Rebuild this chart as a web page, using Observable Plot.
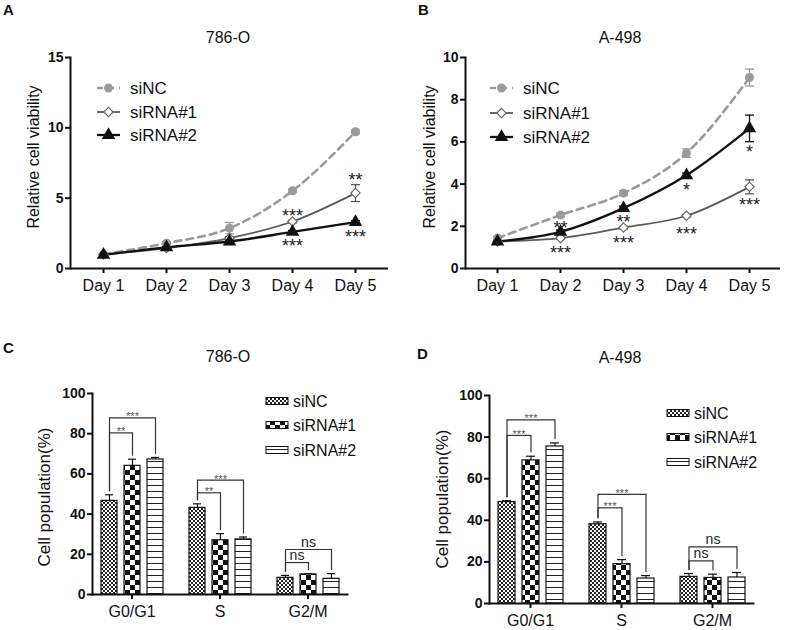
<!DOCTYPE html>
<html><head><meta charset="utf-8">
<script src="https://cdn.jsdelivr.net/npm/d3@7"></script>
<script src="https://cdn.jsdelivr.net/npm/@observablehq/plot@0.6"></script>
<style>
body{margin:0;background:#fff;}
#fig{position:relative;width:787px;height:630px;overflow:hidden;background:#fff;font-family:"Liberation Sans",Arial,sans-serif;}
.panel{position:absolute;}
.panel svg{max-width:none !important;}
#overlay{position:absolute;left:0;top:0;pointer-events:none;}
</style></head><body>
<div id="fig">
  <div id="pA" class="panel" style="left:0;top:0;width:390px;height:300px"></div>
  <div id="pB" class="panel" style="left:390px;top:0;width:397px;height:300px"></div>
  <div id="pC" class="panel" style="left:0;top:300px;width:390px;height:330px"></div>
  <div id="pD" class="panel" style="left:390px;top:300px;width:397px;height:330px"></div>
  <svg id="overlay" width="787" height="630">
    <defs>
      <pattern id="patNC" patternUnits="userSpaceOnUse" width="4" height="4">
        <rect width="4" height="4" fill="#fff"/>
        <rect width="2" height="2" fill="#222"/><rect x="2" y="2" width="2" height="2" fill="#222"/>
      </pattern>
      <pattern id="patS1" patternUnits="userSpaceOnUse" width="10" height="10">
        <rect width="10" height="10" fill="#fff"/>
        <rect width="5" height="5" fill="#111"/><rect x="5" y="5" width="5" height="5" fill="#111"/>
      </pattern>
      <pattern id="patS2" patternUnits="userSpaceOnUse" width="6" height="6">
        <rect width="6" height="6" fill="#fff"/>
        <rect y="5" width="6" height="1" fill="#222"/>
      </pattern>
    </defs>
  </svg>
</div>
<script>
// ---------- data ----------
const days = ["Day 1", "Day 2", "Day 3", "Day 4", "Day 5"];
const seriesNames = ["siNC", "siRNA#1", "siRNA#2"];
const phases = ["G0/G1", "S", "G2/M"];
const cellLines = ["786-O", "A-498"];
const panelLetters = ["A", "B", "C", "D"];
const viabilityLabel = "Relative cell viability";
const populationLabel = "Cell population(%)";

// Panel A: 786-O relative viability
const aSiNC = [1.02, 1.80, 2.87, 5.52, 9.72];
const aSiNCErr = [0.06, 0.10, 0.40, 0.12, 0.12];
const aSi1 = [1.00, 1.45, 2.16, 3.34, 5.36];
const aSi1Err = [0.05, 0.08, 0.10, 0.10, 0.60];
const aSi2 = [0.97, 1.50, 1.92, 2.60, 3.30];
const aSi2Err = [0.04, 0.05, 0.08, 0.10, 0.10];
const aYTicks = [0, 5, 10, 15];
const aStarDays = ["Day 4", "Day 4", "Day 5", "Day 5"];
const aStarY = [4.07, 1.94, 6.6, 2.58];
const aStarText = ["***", "***", "**", "***"];

// Panel B: A-498 relative viability
const bSiNC = [1.44, 2.53, 3.57, 5.47, 9.05];
const bSiNCErr = [0.08, 0.10, 0.12, 0.20, 0.40];
const bSi1 = [1.28, 1.44, 1.94, 2.50, 3.87];
const bSi1Err = [0.04, 0.05, 0.06, 0.06, 0.33];
const bSi2 = [1.28, 1.74, 2.86, 4.42, 6.64];
const bSi2Err = [0.04, 0.08, 0.10, 0.10, 0.63];
const bYTicks = [0, 2, 4, 6, 8, 10];
const bStarDays = ["Day 2", "Day 2", "Day 3", "Day 3", "Day 4", "Day 4", "Day 5", "Day 5"];
const bStarY = [2.15, 0.98, 2.43, 1.45, 3.93, 1.88, 5.75, 3.25];
const bStarText = ["**", "***", "**", "***", "*", "***", "*", "***"];

// Panel C: 786-O cell cycle
const cSiNC = [46.6, 43.1, 8.3];
const cSiNCErr = [3.0, 2.0, 1.2];
const cSi1 = [64.0, 27.0, 10.0];
const cSi1Err = [3.3, 3.3, 0.3];
const cSi2 = [67.2, 27.4, 7.8];
const cSi2Err = [1.0, 1.2, 2.6];
const cBrPhase = ["G0/G1", "G0/G1", "S", "S", "G2/M", "G2/M"];
const cBrTo = ["siRNA#1", "siRNA#2", "siRNA#1", "siRNA#2", "siRNA#1", "siRNA#2"];
const cBrH = [80.4, 87.9, 50.6, 56.9, 15.9, 22.4];
const cBrText = ["**", "***", "**", "***", "ns", "ns"];

// Panel D: A-498 cell cycle
const dSiNC = [48.8, 38.1, 12.8];
const dSiNCErr = [0.6, 1.1, 1.6];
const dSi1 = [68.8, 18.9, 12.3];
const dSi1Err = [2.0, 2.2, 1.8];
const dSi2 = [75.5, 12.0, 12.5];
const dSi2Err = [1.7, 1.4, 2.4];
const dBrPhase = ["G0/G1", "G0/G1", "S", "S", "G2/M", "G2/M"];
const dBrTo = ["siRNA#1", "siRNA#2", "siRNA#1", "siRNA#2", "siRNA#1", "siRNA#2"];
const dBrH = [80.8, 88.3, 46.0, 52.5, 20.5, 27.2];
const dBrText = ["***", "***", "***", "***", "ns", "ns"];

const pctTicks = [0, 20, 40, 60, 80, 100];

// ---------- styles ----------
const FONT = "'Liberation Sans', Arial, sans-serif";
const lineStyle = {
  "siNC": {stroke: "#9a9a9a", width: 2.6, dash: "7,5", symbol: "circle", r: 4.5, fill: "#9a9a9a", mstroke: "none"},
  "siRNA#1": {stroke: "#5a5a5a", width: 1.8, dash: null, symbol: "diamond2", r: 4.2, fill: "#fff", mstroke: "#6a6a6a"},
  "siRNA#2": {stroke: "#111", width: 2.3, dash: null, symbol: "triangle", r: 5, fill: "#111", mstroke: "none"}
};
const patternFor = {"siNC": "url(#patNC)", "siRNA#1": "url(#patS1)", "siRNA#2": "url(#patS2)"};
const baseStyle = {fontFamily: FONT, color: "#111", background: "transparent", overflow: "visible"};
// horizontal error-bar cap drawn as a dot symbol (half-width = r)
const capSymbol = {draw(ctx, size) { const w = Math.sqrt(size / Math.PI); ctx.moveTo(-w, 0); ctx.lineTo(w, 0); }};

// ---------- line panels ----------
function linePanel({vals, errs, yMax, yTicks, starDays, starY, starText, width, height, margins}) {
  const rows = [];
  seriesNames.forEach((s, k) => days.forEach((d, i) => rows.push({series: s, day: d, v: vals[k][i], e: errs[k][i]})));
  const stars = starDays.map((d, i) => ({day: d, y: starY[i], label: starText[i]}));
  const marks = [
    Plot.axisY({ticks: yTicks, tickSize: 5, tickPadding: 2, fontSize: 14, fontWeight: "bold", strokeWidth: 2, label: null}),
    Plot.axisX({tickSize: 5, tickPadding: 6, fontSize: 16, strokeWidth: 2, label: null}),
    Plot.ruleY([0], {strokeWidth: 2}),
    Plot.frame({anchor: "left", strokeWidth: 2})
  ];
  for (const s of seriesNames) {
    const st = lineStyle[s];
    const data = rows.filter(r => r.series === s);
    marks.push(Plot.ruleX(data, {x: "day", y1: d => d.v - d.e, y2: d => d.v + d.e, stroke: st.stroke, strokeWidth: 1.3}));
    marks.push(Plot.dot(data, {x: "day", y: d => d.v + d.e, symbol: capSymbol, r: 4.5, fill: "none", stroke: st.stroke, strokeWidth: 1.3}));
    marks.push(Plot.dot(data, {x: "day", y: d => d.v - d.e, symbol: capSymbol, r: 4.5, fill: "none", stroke: st.stroke, strokeWidth: 1.3}));
  }
  for (const s of seriesNames) {
    const st = lineStyle[s];
    const data = rows.filter(r => r.series === s);
    marks.push(Plot.line(data, {x: "day", y: "v", stroke: st.stroke, strokeWidth: st.width, strokeDasharray: st.dash, curve: "monotone-x"}));
  }
  for (const s of seriesNames) {
    const st = lineStyle[s];
    const data = rows.filter(r => r.series === s);
    marks.push(Plot.dot(data, {x: "day", y: "v", symbol: st.symbol, r: st.r, fill: st.fill, stroke: st.mstroke, strokeWidth: 1.2}));
  }
  marks.push(Plot.text(stars, {x: "day", y: "y", text: "label", fontSize: 18, fill: "#222", dy: 5}));
  return Plot.plot({
    width, height, ...margins, style: baseStyle,
    x: {type: "point", domain: days, padding: 0.5},
    y: {domain: [0, yMax]},
    marks
  });
}

// ---------- bar panels ----------
function midRender(data) {
  return function (index, scales, values, dimensions, context, next) {
    const X = Array.from(values.x);
    for (const i of index) {
      const off = values.x[i] - scales.x(data[i].to);
      X[i] = (values.x[i] + scales.x("siNC") + off) / 2;
    }
    return next(index, scales, {...values, x: X}, dimensions, context);
  };
}

function barPanel({vals, errs, brPhase, brTo, brH, brText, width, height, margins}) {
  const bars = [];
  seriesNames.forEach((s, k) => phases.forEach((p, i) => bars.push({series: s, phase: p, v: vals[k][i], e: errs[k][i]})));
  const top = (p, s) => { const b = bars.find(d => d.phase === p && d.series === s); return b.v + b.e; };
  const br = brPhase.map((p, i) => ({phase: p, to: brTo[i], h: brH[i], label: brText[i],
    lowL: top(p, "siNC") + 1.5, lowR: top(p, brTo[i]) + 1.5}));
  const brStars = br.filter(d => d.label !== "ns");
  const brNs = br.filter(d => d.label === "ns");
  return Plot.plot({
    width, height, ...margins, style: baseStyle,
    fx: {domain: phases, paddingInner: 0.1, paddingOuter: 0.05},
    x: {domain: seriesNames, padding: 0.31, axis: null},
    y: {domain: [0, 100]},
    color: {type: "identity"},
    marks: [
      Plot.axisY({ticks: pctTicks, tickSize: 5, tickPadding: 2, fontSize: 14, fontWeight: "bold", strokeWidth: 2, label: null}),
      Plot.axisFx({anchor: "bottom", tickSize: 5, tickPadding: 6, fontSize: 16, strokeWidth: 2, label: null}),
      Plot.barY(bars, {fx: "phase", x: "series", y: "v", fill: d => patternFor[d.series], stroke: "#111", strokeWidth: 1.2}),
      Plot.ruleX(bars, {fx: "phase", x: "series", y1: "v", y2: d => d.v + d.e, stroke: "#111", strokeWidth: 1.2}),
      Plot.tickY(bars, {fx: "phase", x: "series", y: d => d.v + d.e, insetLeft: 4, insetRight: 4, stroke: "#111", strokeWidth: 1.2}),
      Plot.link(br, {fx: "phase", x1: () => "siNC", x2: "to", y1: "h", y2: "h", stroke: "#333", strokeWidth: 1.2}),
      Plot.ruleX(br, {fx: "phase", x: () => "siNC", y1: "lowL", y2: "h", stroke: "#333", strokeWidth: 1.2}),
      Plot.ruleX(br, {fx: "phase", x: "to", y1: "lowR", y2: "h", stroke: "#333", strokeWidth: 1.2}),
      Plot.text(brStars, {fx: "phase", x: "to", y: "h", text: "label", fontSize: 11, fill: "#555", dy: -1, render: midRender(brStars)}),
      Plot.text(brNs, {fx: "phase", x: "to", y: "h", text: "label", fontSize: 14, fill: "#222", dy: -7, render: midRender(brNs)}),
      Plot.frame({anchor: "bottom", facet: "super", strokeWidth: 2}),
      Plot.frame({anchor: "left", facet: "super", strokeWidth: 2})
    ]
  });
}

document.getElementById("pA").append(linePanel({
  vals: [aSiNC, aSi1, aSi2], errs: [aSiNCErr, aSi1Err, aSi2Err], yMax: 15, yTicks: aYTicks,
  starDays: aStarDays, starY: aStarY, starText: aStarText,
  width: 390, height: 300, margins: {marginLeft: 70, marginRight: 2, marginTop: 57, marginBottom: 32}
}));
document.getElementById("pB").append(linePanel({
  vals: [bSiNC, bSi1, bSi2], errs: [bSiNCErr, bSi1Err, bSi2Err], yMax: 10, yTicks: bYTicks,
  starDays: bStarDays, starY: bStarY, starText: bStarText,
  width: 397, height: 300, margins: {marginLeft: 75, marginRight: 7, marginTop: 57, marginBottom: 32}
}));
document.getElementById("pC").append(barPanel({
  vals: [cSiNC, cSi1, cSi2], errs: [cSiNCErr, cSi1Err, cSi2Err],
  brPhase: cBrPhase, brTo: cBrTo, brH: cBrH, brText: cBrText,
  width: 390, height: 330, margins: {marginLeft: 87, marginRight: 37, marginTop: 93, marginBottom: 36}
}));
document.getElementById("pD").append(barPanel({
  vals: [dSiNC, dSi1, dSi2], errs: [dSiNCErr, dSi1Err, dSi2Err],
  brPhase: dBrPhase, brTo: dBrTo, brH: dBrH, brText: dBrText,
  width: 397, height: 330, margins: {marginLeft: 94, marginRight: 29, marginTop: 95, marginBottom: 27}
}));

// ---------- overlay: letters, titles, axis labels, legends ----------
const ov = d3.select("#overlay").style("font-family", FONT);
const letterPos = [[3, 15], [418, 15], [3, 353], [417, 359]];
panelLetters.forEach((t, i) => ov.append("text").attr("x", letterPos[i][0]).attr("y", letterPos[i][1])
  .attr("font-size", 15).attr("font-weight", "bold").attr("fill", "#111").text(t));
const titlePos = [[228, 43, 0], [620, 43, 1], [228, 362, 0], [620, 363, 1]];
titlePos.forEach(([x, y, k]) => ov.append("text").attr("x", x).attr("y", y).attr("text-anchor", "middle")
  .attr("font-size", 16).attr("fill", "#111").text(cellLines[k]));
const ylabPos = [[39, 157, viabilityLabel, 16], [435, 157, viabilityLabel, 16], [50, 497, populationLabel, 17], [448, 499, populationLabel, 17]];
ylabPos.forEach(([x, y, t, fs]) => ov.append("text").attr("transform", `translate(${x},${y}) rotate(-90)`)
  .attr("text-anchor", "middle").attr("font-size", fs).attr("fill", "#111").text(t));

function lineLegend(x0, ys) {
  seriesNames.forEach((s, k) => {
    const st = lineStyle[s], y = ys[k];
    ov.append("line").attr("x1", x0).attr("x2", x0 + 23).attr("y1", y).attr("y2", y)
      .attr("stroke", st.stroke).attr("stroke-width", st.width).attr("stroke-dasharray", st.dash ? "6,5" : null);
    const sym = d3.symbol().type(st.symbol === "circle" ? d3.symbolCircle : st.symbol === "triangle" ? d3.symbolTriangle : d3.symbolDiamond2)
      .size(Math.PI * st.r * st.r);
    ov.append("path").attr("d", sym()).attr("transform", `translate(${x0 + 11.5},${y})`)
      .attr("fill", st.fill).attr("stroke", st.mstroke).attr("stroke-width", 1.2);
    ov.append("text").attr("x", x0 + 33).attr("y", y + 6).attr("font-size", 17).attr("fill", "#111").text(s);
  });
}
lineLegend(97, [88, 112, 135]);
lineLegend(490, [88, 113, 137]);

function barLegend(x0, ys) {
  seriesNames.forEach((s, k) => {
    const y = ys[k];
    ov.append("rect").attr("x", x0).attr("y", y - 3.5).attr("width", 22).attr("height", 7)
      .attr("fill", patternFor[s]).attr("stroke", "#111").attr("stroke-width", 1);
    ov.append("text").attr("x", x0 + 27).attr("y", y + 6).attr("font-size", 16).attr("fill", "#111").text(s);
  });
}
barLegend(266, [401, 425, 450]);
barLegend(667, [413, 437, 462]);
</script>
</body></html>
